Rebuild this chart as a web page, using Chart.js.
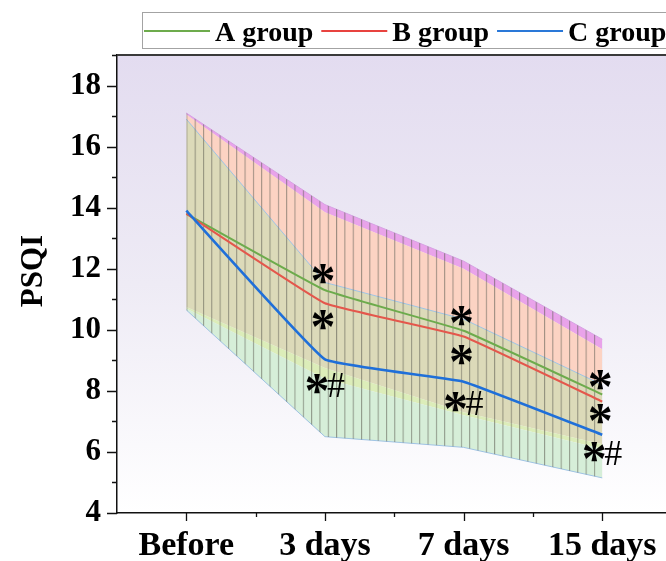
<!DOCTYPE html>
<html lang="en">
<head>
<meta charset="UTF-8" />
<title>PSQI</title>
<script src="https://cdn.jsdelivr.net/npm/chart.js"></script>
<style>
  body { margin: 0; background: #fff; overflow: hidden; }
  #wrap { width: 666px; height: 561px; position: relative; }
</style>
</head>
<body>
<div id="wrap"><canvas id="psqi"></canvas></div>
<script>
const timeLabels = ['Before', '3 days', '7 days', '15 days'];
const groupNames = ['A group', 'B group', 'C group'];
const yTicks = [4, 6, 8, 10, 12, 14, 16, 18];

// group means
const meanA = [13.8, 11.3, 9.97, 7.88];
const meanB = [13.8, 10.87, 9.78, 7.65];
const meanC = [13.9, 9.03, 8.3, 6.56];

// edges of the shaded bands (mean +/- SD)
const upperB = [17.1, 14.1, 12.25, 9.69];
const upperA = [17.05, 13.85, 12.0, 9.36];
const upperC = [16.9, 11.55, 10.35, 8.2];
const lowerA = [10.75, 8.75, 7.3, 6.25];
const lowerB = [10.7, 8.4, 7.2, 6.1];
const lowerC = [10.65, 6.5, 6.15, 5.15];

// significance marks
const markAt = [1, 1, 1, 2, 2, 2, 3, 3, 3];
const markY = [11.82, 10.31, 8.24, 10.44, 9.19, 7.65, 8.34, 7.25, 6.0];
const markText = ['*', '*', '*#', '*', '*', '*#', '*', '*', '*#'];

const SERIF = "'Liberation Serif', 'Times New Roman', serif";
const lineColors = ['#6dab4c', '#e4574c', '#1f6fd9'];
const legendColors = ['#6dab4c', '#e8433f', '#2a78d8'];

const pts = arr => arr.map((v, i) => ({ x: i, y: v }));

const canvas = document.getElementById('psqi');
const hatchTile = document.createElement('canvas');
hatchTile.width = 10; hatchTile.height = 4;
const htx = hatchTile.getContext('2d');
htx.fillStyle = 'rgba(95,95,85,0.6)';
htx.fillRect(0, 0, 1.2, 4);
const hatch = canvas.getContext('2d').createPattern(hatchTile, 'repeat');

function band(data, bg, target, border, order) {
  return {
    data: pts(data), backgroundColor: bg, fill: target,
    borderColor: border || 'transparent', borderWidth: border ? 1 : 0,
    pointRadius: 0, tension: 0, order: order
  };
}
function meanLine(data, color, width, order) {
  return {
    data: pts(data), borderColor: color, borderWidth: width, fill: false,
    pointRadius: 0, tension: 0.08, order: order
  };
}

const frame = {
  id: 'frame',
  beforeDraw(chart) {
    const { ctx, chartArea: a } = chart;
    const g = ctx.createLinearGradient(0, a.top, 0, a.bottom);
    g.addColorStop(0, '#e3dcf0');
    g.addColorStop(0.5, '#eeebf5');
    g.addColorStop(1, '#ffffff');
    ctx.save();
    ctx.fillStyle = g;
    ctx.fillRect(a.left, a.top, a.right - a.left, a.bottom - a.top);
    ctx.restore();
  },
  beforeDatasetsDraw(chart) {
    const xs = chart.scales.x;
    const x0 = xs.getPixelForValue(0);
    const step = (xs.getPixelForValue(3) - x0) / 50;
    hatch.setTransform(new DOMMatrix([step / 10, 0, 0, 1, x0, 0]));
  },
  afterDatasetsDraw(chart) {
    const { ctx, scales: { x, y } } = chart;
    ctx.save();
    ctx.fillStyle = '#000';
    ctx.textAlign = 'center';
    markText.forEach((t, i) => {
      const px = x.getPixelForValue(markAt[i]);
      const py = y.getPixelForValue(markY[i]);
      ctx.font = 'bold 50px ' + SERIF;
      const m = ctx.measureText('*');
      const off = (m.actualBoundingBoxAscent - m.actualBoundingBoxDescent) / 2;
      if (t === '*') {
        ctx.fillText('*', px - 2, py + off);
      } else {
        ctx.fillText('*', px - 8, py + off);
        ctx.font = '36px ' + SERIF;
        const h = ctx.measureText('#');
        ctx.fillText('#', px + 11, py + 1 + (h.actualBoundingBoxAscent - h.actualBoundingBoxDescent) / 2);
      }
    });
    ctx.restore();
  },
  afterDraw(chart) {
    const { ctx, chartArea: a, scales: { x, y } } = chart;
    ctx.save();
    // top frame
    ctx.strokeStyle = '#3a3a3a';
    ctx.lineWidth = 2;
    ctx.beginPath();
    ctx.moveTo(a.left, a.top); ctx.lineTo(a.right, a.top);
    ctx.stroke();
    // tick marks
    ctx.strokeStyle = '#111';
    ctx.lineWidth = 1.3;
    ctx.beginPath();
    for (let v = 4; v <= 19; v++) {
      const py = Math.round(y.getPixelForValue(v)) + 0.5;
      const len = v % 2 === 0 ? 10 : 5;
      ctx.moveTo(a.left - len, py); ctx.lineTo(a.left, py);
    }
    for (let v = 0; v <= 3.01; v += 0.5) {
      const px = Math.round(x.getPixelForValue(v)) + 0.5;
      const len = Number.isInteger(v) ? 8 : 4;
      ctx.moveTo(px, a.bottom); ctx.lineTo(px, a.bottom + len);
    }
    ctx.stroke();
    // y title
    ctx.translate(34, 271);
    ctx.rotate(-Math.PI / 2);
    ctx.font = 'bold 31px ' + SERIF;
    ctx.textAlign = 'center';
    ctx.textBaseline = 'middle';
    ctx.fillStyle = '#000';
    ctx.fillText('PSQI', 0, 0);
    ctx.restore();
    // legend
    ctx.save();
    ctx.strokeStyle = '#a3a3a3';
    ctx.lineWidth = 1;
    ctx.strokeRect(142.5, 12.5, 600, 36);
    ctx.font = 'bold 28px ' + SERIF;
    ctx.textBaseline = 'alphabetic';
    let lx = 144;
    groupNames.forEach((name, i) => {
      ctx.strokeStyle = legendColors[i];
      ctx.lineWidth = 2;
      ctx.beginPath();
      ctx.moveTo(lx, 31); ctx.lineTo(lx + 66, 31);
      ctx.stroke();
      ctx.fillStyle = '#000';
      ctx.fillText(name, lx + 71, 41);
      lx += 71 + ctx.measureText(name).width + 8;
    });
    ctx.restore();
  }
};

new Chart(canvas, {
  type: 'line',
  data: {
    datasets: [
      band(upperB, '#e9a3ea', 1, '#d7a4e4', 16),
      band(upperA, '#fcd3c3', 2, null, 15),
      band(upperC, '#dcdab9', 3, '#9fc3e4', 14),
      band(lowerA, '#dcedb9', 4, null, 13),
      band(lowerB, '#d6eed8', 5, null, 12),
      band(lowerC, 'transparent', false, '#9fc3e4', 11),
      band(upperB, hatch, 5, null, 5),
      meanLine(meanA, lineColors[0], 2, 2),
      meanLine(meanB, lineColors[1], 2, 1),
      meanLine(meanC, lineColors[2], 2.6, 0)
    ]
  },
  options: {
    responsive: true,
    maintainAspectRatio: false,
    animation: false,
    layout: { padding: { top: 55, right: 0, left: 0, bottom: 0 } },
    plugins: { legend: { display: false }, tooltip: { enabled: false } },
    scales: {
      x: {
        type: 'linear', min: -0.5, max: 3.46,
        afterBuildTicks: s => { s.ticks = timeLabels.map((_, i) => ({ value: i })); },
        afterFit: s => { s.height = 48; s.paddingLeft = 0; s.paddingRight = 0; },
        grid: { display: false, drawTicks: false },
        border: { display: true, color: '#111', width: 1.5 },
        ticks: {
          callback: v => timeLabels[v], color: '#000', padding: 13,
          maxRotation: 0, autoSkip: false,
          font: { family: SERIF, size: 34, weight: 'bold' }
        }
      },
      y: {
        min: 4, max: 19,
        afterBuildTicks: s => { s.ticks = yTicks.map(v => ({ value: v })); },
        afterFit: s => { s.width = 117; s.paddingTop = 0; s.paddingBottom = 0; },
        grid: { display: false, drawTicks: false },
        border: { display: true, color: '#111', width: 1.5 },
        ticks: {
          color: '#000', padding: 16,
          font: { family: SERIF, size: 31, weight: 'bold' }
        }
      }
    }
  },
  plugins: [frame]
});
</script>
</body>
</html>
